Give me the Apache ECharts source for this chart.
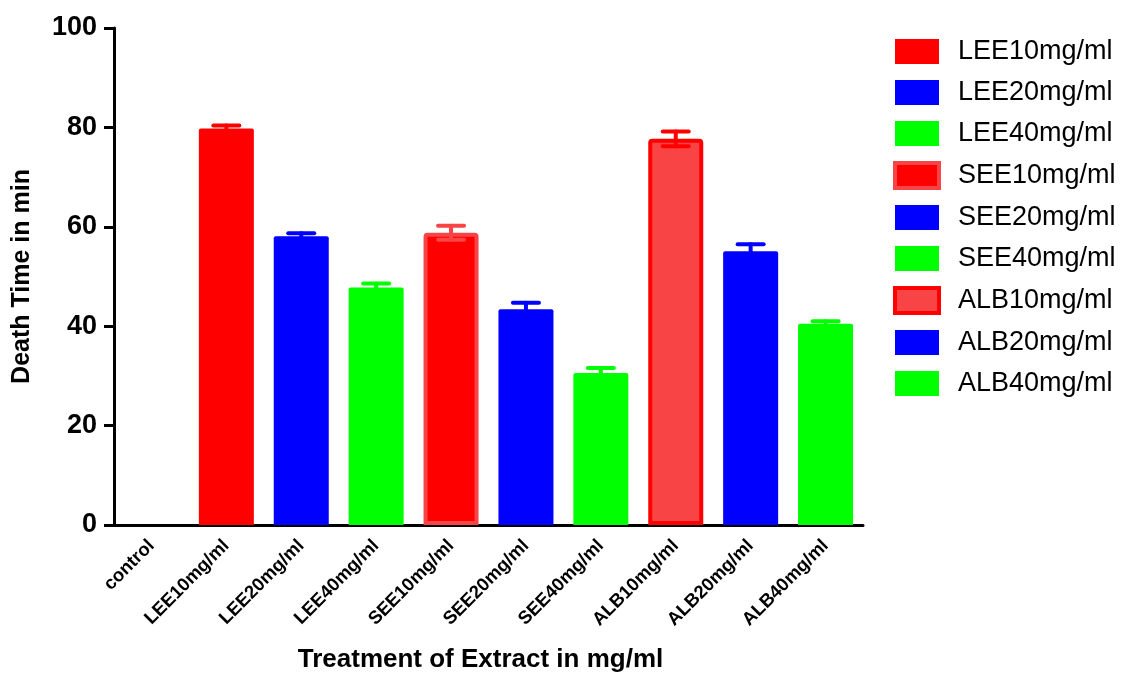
<!DOCTYPE html>
<html>
<head>
<meta charset="utf-8">
<script src="https://cdn.jsdelivr.net/npm/echarts@6/dist/echarts.min.js"></script>
<style>
html,body{margin:0;padding:0;background:#fff;}
#chart{width:1130px;height:679px;}
</style>
</head>
<body>
<div id="chart"></div>
<script>
var categories = ['control','LEE10mg/ml','LEE20mg/ml','LEE40mg/ml','SEE10mg/ml','SEE20mg/ml','SEE40mg/ml','ALB10mg/ml','ALB20mg/ml','ALB40mg/ml'];
var values = [0, 79.8, 58.1, 47.8, 58.8, 43.4, 30.6, 77.7, 55.1, 40.5];
var errors = [0, 0.6, 0.6, 0.8, 1.4, 1.3, 1.0, 1.5, 1.4, 0.5];
var yTicks = [0, 20, 40, 60, 80, 100];

var RED = '#ff0000', LRED = '#f84444', BLUE = '#0000ff', GREEN = '#00ff00';
var fillColors = [null, RED, BLUE, GREEN, RED, BLUE, GREEN, LRED, BLUE, GREEN];
var borderColors = [null, null, null, null, LRED, null, null, RED, null, null];
var errColors = [null, RED, BLUE, GREEN, LRED, BLUE, GREEN, RED, BLUE, GREEN];
var FONT = '"Liberation Sans", Arial, sans-serif';

var series = [];
var legendData = [];
for (var i = 1; i < categories.length; i++) {
  var data = categories.map(function (c, j) { return j === i ? values[j] : '-'; });
  var st = { color: fillColors[i], borderRadius: [2, 2, 0, 0] };
  if (borderColors[i]) { st.borderColor = borderColors[i]; st.borderWidth = 4; }
  series.push({
    name: categories[i], type: 'bar', data: data, barWidth: 55, barGap: '-100%',
    itemStyle: st, z: 2, animation: false
  });
  var li = { name: categories[i] };
  if (borderColors[i]) li.itemStyle = { borderColor: borderColors[i], borderWidth: 4, color: fillColors[i] };
  legendData.push(li);
}

var errData = [];
for (var k = 1; k < categories.length; k++) {
  errData.push([k, values[k] - errors[k], values[k] + errors[k]]);
}
series.push({
  type: 'custom', z: 5, animation: false, silent: true,
  data: errData,
  encode: { x: 0, y: [1, 2] },
  renderItem: function (params, api) {
    var idx = api.value(0);
    var lo = api.coord([idx, api.value(1)]);
    var hi = api.coord([idx, api.value(2)]);
    var hw = 13;
    var style = { stroke: errColors[idx], lineWidth: 4, lineCap: 'round', fill: null };
    return {
      type: 'group',
      children: [
        { type: 'line', shape: { x1: hi[0], y1: hi[1], x2: lo[0], y2: lo[1] }, style: style },
        { type: 'line', shape: { x1: hi[0] - hw, y1: hi[1], x2: hi[0] + hw, y2: hi[1] }, style: style },
        { type: 'line', shape: { x1: lo[0] - hw, y1: lo[1], x2: lo[0] + hw, y2: lo[1] }, style: style }
      ]
    };
  }
});

var chart = echarts.init(document.getElementById('chart'));
chart.setOption({
  backgroundColor: '#fff',
  animation: false,
  textStyle: { fontFamily: FONT },
  grid: { left: 114, right: 267, top: 28, bottom: 154, containLabel: false },
  legend: {
    orient: 'vertical', left: 893, top: 38, padding: 0,
    itemWidth: 44, itemHeight: 25, itemGap: 14,
    icon: 'rect',
    data: legendData,
    textStyle: { fontSize: 27, color: '#000', fontFamily: FONT, padding: [0, 0, 0, 14] }
  },
  xAxis: {
    type: 'category', data: categories,
    name: 'Treatment of Extract in mg/ml', nameLocation: 'middle', nameGap: 122,
    nameTextStyle: { fontSize: 26, fontWeight: 'bold', color: '#000', fontFamily: FONT, padding: [0, 16, 0, 0] },
    axisLine: { lineStyle: { color: '#000', width: 3 } },
    axisTick: { alignWithLabel: true, length: 10, lineStyle: { color: '#000', width: 3 } },
    axisLabel: { rotate: 45, fontSize: 18.5, fontWeight: 'bold', color: '#000', margin: 18, interval: 0, fontFamily: FONT },
    splitLine: { show: false }
  },
  yAxis: {
    type: 'value', min: yTicks[0], max: yTicks[yTicks.length - 1], interval: 20,
    name: 'Death Time in min', nameLocation: 'middle', nameRotate: 90, nameGap: 79,
    nameTextStyle: { fontSize: 25, fontWeight: 'bold', color: '#000', fontFamily: FONT },
    axisLine: { show: true, lineStyle: { color: '#000', width: 3 } },
    axisTick: { show: true, length: 10, lineStyle: { color: '#000', width: 3 } },
    axisLabel: { fontSize: 27, fontWeight: 'bold', color: '#000', margin: 17, fontFamily: FONT },
    splitLine: { show: false }
  },
  series: series
});
</script>
</body>
</html>
